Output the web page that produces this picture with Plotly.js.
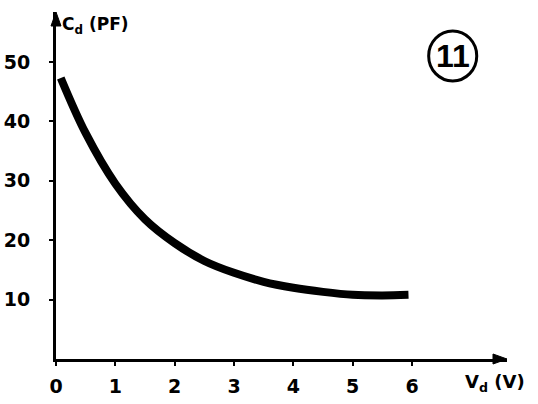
<!DOCTYPE html>
<html>
<head>
<meta charset="utf-8">
<script src="https://cdn.plot.ly/plotly-3.0.1.min.js"></script>
<style>html,body{margin:0;padding:0;background:#fff;}#chart{width:538px;height:404px;}</style>
</head>
<body>
<div id="chart"></div>
<script>
// Diode capacitance Cd (pF) vs voltage Vd (V)
const vd = [0.08, 0.5, 1.0, 1.5, 2.0, 2.5, 3.0, 3.5, 4.0, 4.5, 5.0, 5.5, 5.94];
const cd = [47.3, 38.0, 29.5, 23.5, 19.5, 16.5, 14.5, 13.0, 12.0, 11.3, 10.8, 10.7, 10.8];
const xTicks = [0, 1, 2, 3, 4, 5, 6];
const yTicks = [10, 20, 30, 40, 50];
const xTitle = 'V<sub>d</sub> (V)';
const yTitle = 'C<sub>d</sub> (PF)';
const badge = '11';

const XMAX = 7.6, YMAX = 58.4;
const PW = 451, PH = 347; // plot area size in px
const tickFont = {family: 'DejaVu Sans, sans-serif', size: 19, color: '#000', weight: 'bold'};

const trace = {
  x: vd, y: cd, type: 'scatter', mode: 'lines',
  line: {color: '#000', width: 8, shape: 'spline', smoothing: 1},
  hoverinfo: 'skip'
};

const ax = 14, aw = 5;
const layout = {
  width: 538, height: 404,
  margin: {l: 56, r: 31, t: 12, b: 45},
  paper_bgcolor: '#fff', plot_bgcolor: '#fff',
  showlegend: false,
  xaxis: {
    range: [0, XMAX], tickvals: xTicks, ticktext: xTicks.map(String),
    showgrid: false, zeroline: false, showline: true, linecolor: '#000', linewidth: 3,
    ticks: 'outside', ticklen: 4, tickwidth: 2, tickcolor: '#000',
    tickfont: tickFont, ticklabelstandoff: 4, fixedrange: true
  },
  yaxis: {
    range: [0, YMAX], tickvals: yTicks, ticktext: yTicks.map(String),
    showgrid: false, zeroline: false, showline: true, linecolor: '#000', linewidth: 3,
    ticks: 'outside', ticklen: 4, tickwidth: 2, tickcolor: '#000',
    tickfont: tickFont, ticklabelstandoff: 15, fixedrange: true
  },
  shapes: [
    {type: 'circle', xref: 'x', yref: 'y', x0: 6.28, x1: 7.09, y0: 46.8, y1: 55.2,
     line: {color: '#000', width: 3}},
    {type: 'path', xref: 'paper', yref: 'paper',
     path: `M 1,0 L ${1 - ax / PW},${aw / PH} L ${1 - ax / PW},${-aw / PH} Z`,
     fillcolor: '#000', line: {color: '#000', width: 1}},
    {type: 'path', xref: 'paper', yref: 'paper',
     path: `M 0,1 L ${-aw / PW},${1 - ax / PH} L ${aw / PW},${1 - ax / PH} Z`,
     fillcolor: '#000', line: {color: '#000', width: 1}}
  ],
  annotations: [
    {x: 0.008, y: 1.0, xref: 'paper', yref: 'paper', xanchor: 'left', yanchor: 'top',
     text: yTitle, showarrow: false, font: {family: 'DejaVu Sans, sans-serif', size: 17, color: '#000', weight: 'bold'}},
    {x: 1.045, y: -0.069, xref: 'paper', yref: 'paper', xanchor: 'right', yanchor: 'middle',
     text: xTitle, showarrow: false, font: {family: 'DejaVu Sans, sans-serif', size: 18, color: '#000', weight: 'bold'}},
    {x: 6.685, y: 51.0, xref: 'x', yref: 'y', xanchor: 'center', yanchor: 'middle',
     text: badge, showarrow: false, font: {family: 'Liberation Sans Narrow, Liberation Sans, sans-serif', size: 32, color: '#000', weight: 'bold'}}
  ]
};

Plotly.newPlot('chart', [trace], layout, {displayModeBar: false, staticPlot: true});
</script>
</body>
</html>
